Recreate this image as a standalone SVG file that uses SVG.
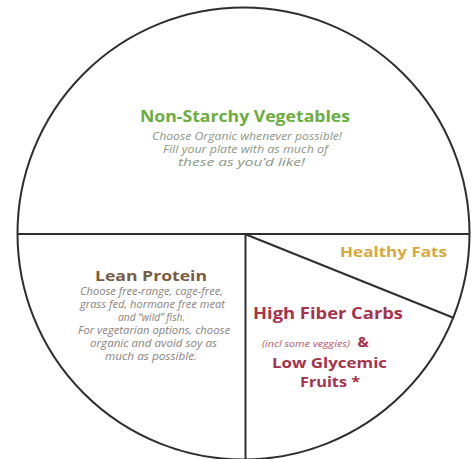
<svg xmlns="http://www.w3.org/2000/svg" width="471" height="459" viewBox="0 0 471 459">
<style>
.ln{fill:none;stroke:#2e2e2e;stroke-width:2}
.t{font-family:"Open Sans","Liberation Sans",sans-serif;font-weight:bold;text-anchor:middle}
.s{font-family:"Open Sans","Liberation Sans",sans-serif;font-style:italic;text-anchor:middle;font-size:10px}
</style>
<rect width="471" height="459" fill="#ffffff"/>
<g id="connectors">
<circle class="ln" cx="243.5" cy="233.5" r="226"/>
<line class="ln" x1="17.5" y1="234" x2="469.5" y2="234"/>
<line class="ln" x1="245.5" y1="234" x2="245.5" y2="459.5"/>
<line class="ln" x1="246" y1="234.5" x2="454" y2="318"/>
</g>
<g id="vegetables">
<text class="t" x="245" y="122" font-size="16" fill="#6bae3e" textLength="210" lengthAdjust="spacingAndGlyphs">Non-Starchy Vegetables</text>
<text class="s" x="247" y="140" fill="#8c9785" textLength="190" lengthAdjust="spacingAndGlyphs">Choose Organic whenever possible!</text>
<text class="s" x="245.5" y="153" fill="#8c9785" textLength="165" lengthAdjust="spacingAndGlyphs">Fill your plate with as much of</text>
<text class="s" x="241.5" y="166" fill="#8c9785" textLength="127" lengthAdjust="spacingAndGlyphs">these as you’d like!</text>
</g>
<g id="protein">
<text class="t" x="151" y="281" font-size="15" fill="#7b5b40" textLength="112" lengthAdjust="spacingAndGlyphs">Lean Protein</text>
<text class="s" x="151.5" y="295" fill="#8a837c" textLength="143" lengthAdjust="spacingAndGlyphs">Choose free-range, cage-free,</text>
<text class="s" x="152.5" y="308" fill="#8a837c" textLength="145" lengthAdjust="spacingAndGlyphs">grass fed, hormone free meat</text>
<text class="s" x="151.5" y="321" fill="#8a837c" textLength="67" lengthAdjust="spacingAndGlyphs">and “wild”  fish.</text>
<text class="s" x="154" y="334" fill="#8a837c" textLength="152" lengthAdjust="spacingAndGlyphs">For vegetarian options, choose</text>
<text class="s" x="153.5" y="347" fill="#8a837c" textLength="127" lengthAdjust="spacingAndGlyphs">organic and avoid soy as</text>
<text class="s" x="151" y="360" fill="#8a837c" textLength="92" lengthAdjust="spacingAndGlyphs">much as possible.</text>
</g>
<g id="fats">
<text class="t" x="393.5" y="257" font-size="15" fill="#d8a83c" textLength="107" lengthAdjust="spacingAndGlyphs">Healthy Fats</text>
</g>
<g id="carbs">
<text class="t" x="328" y="319" font-size="16" fill="#a6334b" textLength="150" lengthAdjust="spacingAndGlyphs">High Fiber Carbs</text>
<text x="262" y="347" font-family="'Open Sans','Liberation Sans',sans-serif" font-style="italic" font-size="9" fill="#b4566a" textLength="88" lengthAdjust="spacingAndGlyphs">(incl some veggies)</text>
<text class="t" x="363" y="347" font-size="15" fill="#a6334b">&amp;</text>
<text class="t" x="329.5" y="368" font-size="15" fill="#a6334b" textLength="115" lengthAdjust="spacingAndGlyphs">Low Glycemic</text>
<text class="t" x="330" y="387" font-size="15" fill="#a6334b" textLength="60" lengthAdjust="spacingAndGlyphs">Fruits *</text>
</g>
</svg>
